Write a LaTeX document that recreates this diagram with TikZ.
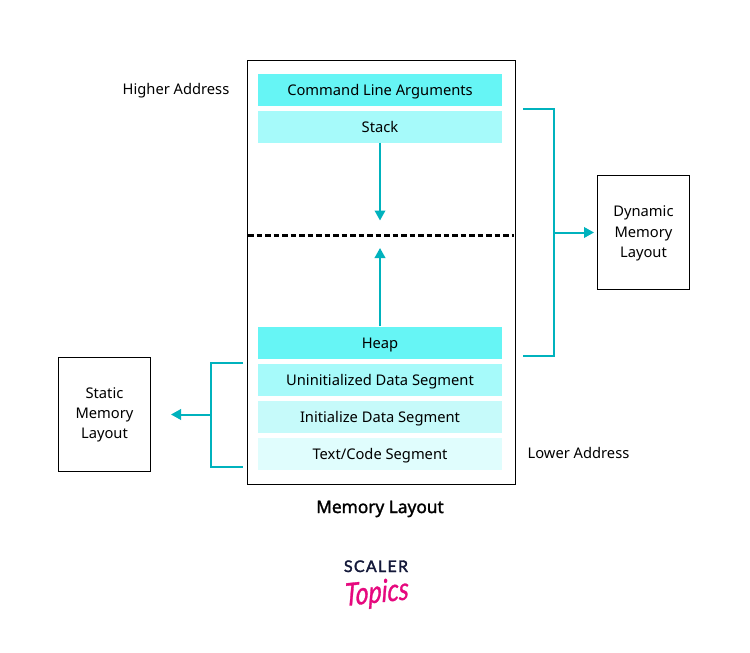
\documentclass[tikz,border=0pt]{standalone}
\usepackage{fontspec}
\setmainfont{Noto Sans}
\newfontfamily\titlefont[FakeBold=1.6]{Noto Sans}
\newfontfamily\logospaced[LetterSpace=8,FakeBold=2]{Lato}
\newfontfamily\logoscript[FakeSlant=0.12,FakeBold=1]{Lato Italic}
\usetikzlibrary{arrows.meta,calc}
\definecolor{tealline}{HTML}{00B2BD}
\definecolor{segA}{HTML}{66F5F5}
\definecolor{segB}{HTML}{A6FAFA}
\definecolor{segC}{HTML}{C6FAFA}
\definecolor{segD}{HTML}{E0FDFD}
\definecolor{logoDark}{HTML}{14193A}
\definecolor{logoPink}{HTML}{E6087E}
\tikzset{
  x=1pt,y=-1pt,
  seg/.style={minimum width=244.5pt,minimum height=32pt,inner sep=0pt,text=black,anchor=center},
  segtext/.style={inner sep=0pt,font=\fontsize{14.7}{16}\selectfont,text=black},
  infobox/.style={draw=black,line width=1pt,minimum width=91.5pt,minimum height=114pt,inner sep=0pt},
  lbl/.style={font=\fontsize{14.7}{16}\selectfont,text=black,inner sep=0pt},
  conn/.style={draw=tealline,line width=2pt},
  arr/.style={conn,-{Triangle[length=10pt,width=10.5pt]}},
}
\begin{document}
\begin{tikzpicture}
\useasboundingbox (0,0) rectangle (750,653);
\fill[white] (0,0) rectangle (750,653);
\node[draw=black,line width=1pt,minimum width=268pt,minimum height=424pt,inner sep=0pt] (mem) at (381,272) {};
\node[seg,fill=segA] (cmd) at (380,89.5) {};
\node[seg,fill=segB] (stack) at (380,126.5) {};
\node[seg,fill=segA] (heap) at (380,342.5) {};
\node[seg,fill=segB] (uninit) at (380,379.5) {};
\node[seg,fill=segC] (init) at (380,416.5) {};
\node[seg,fill=segD] (text) at (380,453.5) {};
\node[segtext,anchor=base] (cmdT) at (380,95.3) {Command Line Arguments};
\node[segtext,anchor=base] (stackT) at (380,132.3) {Stack};
\node[segtext,anchor=base] (heapT) at (380,348.3) {Heap};
\node[segtext,anchor=base] (uninitT) at (380,385.3) {Uninitialized Data Segment};
\node[segtext,anchor=base] (initT) at (380,422.3) {Initialize Data Segment};
\node[segtext,anchor=base] (textT) at (380,459.3) {Text/Code Segment};
\node[infobox] (dyn) at (643.5,232.5) {};
\node[infobox] (static) at (104.5,414) {};
\node[lbl,align=center,font=\fontsize{14.7}{20.5}\selectfont] (dynT) at (643.5,233.8) {Dynamic\\Memory\\Layout};
\node[lbl,align=center,font=\fontsize{14.7}{20}\selectfont] (staticT) at (104.5,414.8) {Static\\Memory\\Layout};
\node[lbl,anchor=base] (high) at (176,94) {Higher Address};
\node[lbl,anchor=base] (low) at (578.5,458) {Lower Address};
\node[inner sep=0pt,anchor=base,font=\titlefont\fontsize{17.3}{19}\selectfont] (title) at (380,513) {Memory Layout};
\node[inner sep=0pt,anchor=base,font=\logospaced\fontsize{16}{16}\selectfont,text=logoDark] (scaler) at (376,572) {SCALER};
\node[inner sep=0pt,rotate=6,yscale=1.25,transform shape,font=\logoscript\fontsize{25}{25}\selectfont,text=logoPink] (topics) at (376,594) {Topics};
\coordinate (midL) at (248,235);
\coordinate (midR) at (514,235);
\draw[line width=3pt,dash pattern=on 5.5pt off 3pt,black] (midL) -- (midR);
\coordinate (stackEnd) at (380,220.5);
\coordinate (heapEnd) at (380,248);
\draw[arr] (stack.south) -- (stackEnd);
\draw[arr] (heap.north) -- (heapEnd);
\coordinate (rTop) at (523,109);
\coordinate (rBot) at (523,356);
\coordinate (rTopC) at (554,109);
\coordinate (rBotC) at (554,356);
\draw[conn] (rTop) -- (rTopC) -- (rBotC) -- (rBot);
\coordinate (rMid) at (554,232.5);
\draw[arr] (rMid) -- (594,232.5);
\coordinate (lTop) at (243,362.5);
\coordinate (lBot) at (243,466.5);
\coordinate (lTopC) at (211,362.5);
\coordinate (lBotC) at (211,466.5);
\draw[conn] (lTop) -- (lTopC) -- (lBotC) -- (lBot);
\coordinate (lMid) at (211,414.5);
\draw[arr] (lMid) -- (171,414.5);
\end{tikzpicture}
\end{document}
